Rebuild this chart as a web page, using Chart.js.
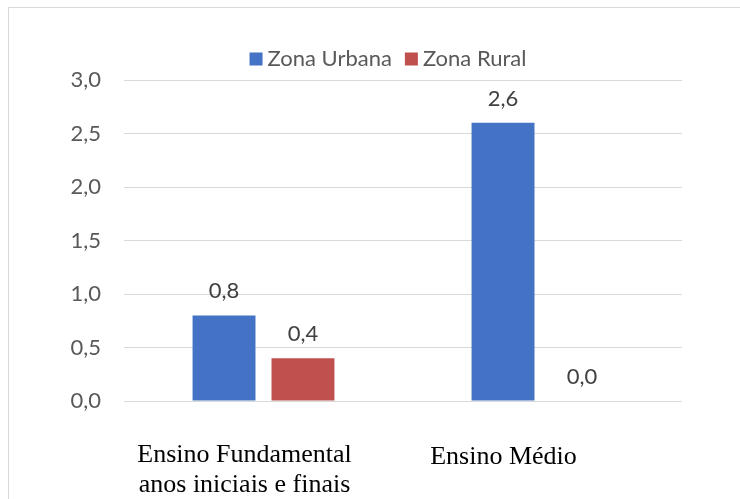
<!DOCTYPE html>
<html>
<head>
<meta charset="utf-8">
<script src="https://cdn.jsdelivr.net/npm/chart.js@4/dist/chart.umd.min.js"></script>
<style>
  html, body { margin:0; padding:0; background:#fff; overflow:hidden; }
  #wrap { position:relative; width:740px; height:499px; }
  #frame { position:absolute; left:8px; top:7px; width:800px; height:600px; border:1px solid #d9d9d9; box-sizing:border-box; }
  canvas { position:absolute; left:0; top:0; }
</style>
</head>
<body>
<div id="wrap">
  <div id="frame"></div>
  <canvas id="c" width="740" height="499"></canvas>
</div>
<script>
const categories = [['Ensino Fundamental', 'anos iniciais e finais'], ['Ensino Médio']];
const seriesNames = ['Zona Urbana', 'Zona Rural'];
const urbana = [0.8, 2.6];
const rural = [0.4, 0.0];
const yMin = 0, yMax = 3, yStep = 0.5;

const SANS = 'Lato, Calibri, Carlito, sans-serif';
const fmt = v => Number(v).toFixed(1).replace('.', ',');

const labelPlugin = {
  id: 'customDraw',
  afterDatasetsDraw(chart) {
    const ctx = chart.ctx;
    ctx.save();
    // data labels
    ctx.font = '22px ' + SANS;
    ctx.fillStyle = '#404040';
    ctx.textAlign = 'center';
    ctx.textBaseline = 'middle';
    chart.data.datasets.forEach((ds, di) => {
      chart.getDatasetMeta(di).data.forEach((bar, i) => {
        ctx.fillText(fmt(ds.data[i]), bar.x, bar.y - 24);
      });
    });
    // category labels
    const xs = chart.scales.x;
    const offsets = [-19, -39];
    const tops = [455, 457];
    ctx.font = '26px "Liberation Serif", "Times New Roman", serif';
    ctx.fillStyle = '#000000';
    chart.data.labels.forEach((lab, i) => {
      const x = xs.getPixelForValue(i) + offsets[i];
      const lines = Array.isArray(lab) ? lab : [lab];
      lines.forEach((ln, k) => ctx.fillText(ln, x, tops[i] + k * 30));
    });
    // legend
    ctx.font = '22px ' + SANS;
    ctx.textAlign = 'left';
    const box = 13, gapBoxText = 5, gapItems = 13;
    const items = chart.data.datasets.map(ds => ({ text: ds.label, color: ds.backgroundColor, w: ctx.measureText(ds.label).width }));
    const total = items.reduce((s, it) => s + box + gapBoxText + it.w, 0) + gapItems * (items.length - 1);
    let x = 388 - total / 2;
    const cy = 59;
    items.forEach(it => {
      ctx.fillStyle = it.color;
      ctx.fillRect(x, cy - box / 2, box, box);
      x += box + gapBoxText;
      ctx.fillStyle = '#595959';
      ctx.fillText(it.text, x, cy);
      x += it.w + gapItems;
    });
    ctx.restore();
  }
};

new Chart(document.getElementById('c'), {
  type: 'bar',
  data: {
    labels: categories,
    datasets: [
      { label: seriesNames[0], data: urbana, backgroundColor: '#4472C4', borderWidth: 0 },
      { label: seriesNames[1], data: rural, backgroundColor: '#C0504D', borderWidth: 0 }
    ]
  },
  options: {
    responsive: false,
    animation: false,
    devicePixelRatio: 1,
    layout: { padding: { left: 0, right: 58, top: 80, bottom: 98 } },
    datasets: { bar: { categoryPercentage: 0.566, barPercentage: 0.797 } },
    plugins: { legend: { display: false }, tooltip: { enabled: false } },
    scales: {
      x: { display: false },
      y: {
        min: yMin, max: yMax,
        afterFit: s => { s.width = 124; },
        border: { display: false },
        grid: { color: '#d9d9d9', lineWidth: 1, drawTicks: false },
        ticks: {
          stepSize: yStep,
          padding: 23,
          color: '#595959',
          font: { family: SANS, size: 22 },
          callback: v => fmt(v)
        }
      }
    }
  },
  plugins: [labelPlugin]
});
</script>
</body>
</html>
